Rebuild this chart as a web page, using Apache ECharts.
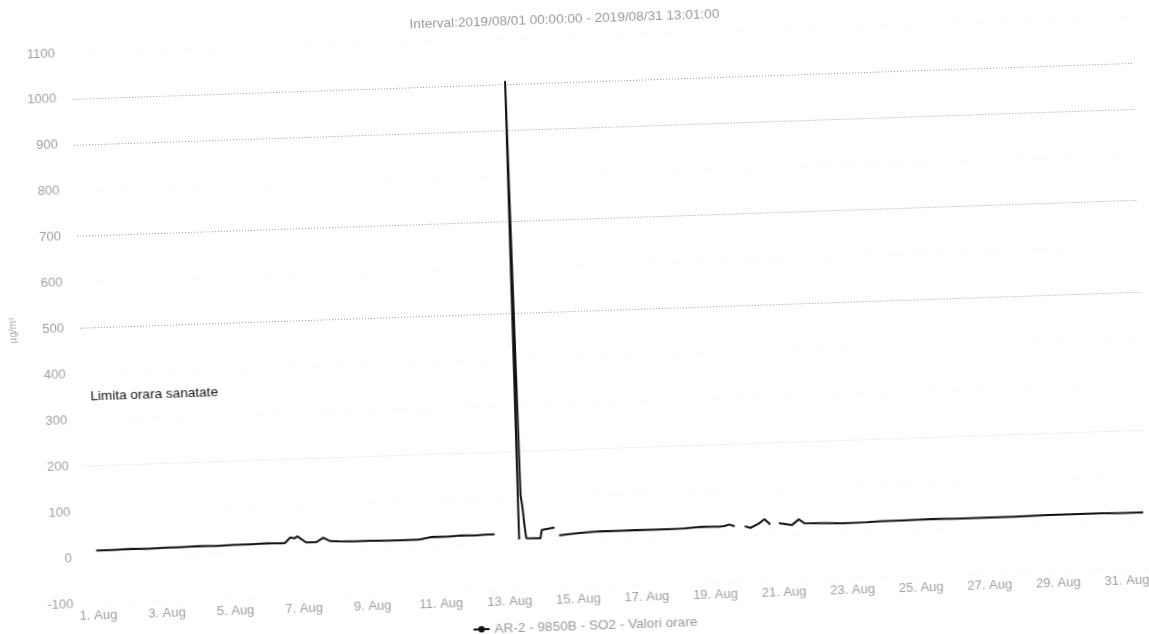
<!DOCTYPE html>
<html>
<head>
<meta charset="utf-8">
<script src="https://cdn.jsdelivr.net/npm/echarts@6/dist/echarts.min.js"></script>
<style>
html,body{margin:0;padding:0;background:#fff;overflow:hidden;}
#chart{width:1149px;height:634px;transform:rotate(-1.94deg);transform-origin:574px 317px;}
</style>
</head>
<body>
<div id="chart"></div>
<script>
// ---- texts ----
const titleText = 'Interval:2019/08/01 00:00:00 - 2019/08/31 13:01:00';
const seriesName = 'AR-2 - 9850B - SO2 - Valori orare';
const yAxisName = 'µg/m³';
const limitLabel = 'Limita orara sanatate';
const limitValue = 350;

// ---- axes ----
const yMin = -100, yMax = 1100, yStep = 100;
const xMinTime = '2019-07-31 18:00';
const xMaxTime = '2019-08-31 17:00';
const xTickDays = [1,3,5,7,9,11,13,15,17,19,21,23,25,27,29,31];
const xTickLabels = ['1. Aug','3. Aug','5. Aug','7. Aug','9. Aug','11. Aug','13. Aug','15. Aug',
  '17. Aug','19. Aug','21. Aug','23. Aug','25. Aug','27. Aug','29. Aug','31. Aug'];

// ---- data (hourly SO2, µg/m³; null = missing) ----
const times = [
 '2019-08-01 00:00','2019-08-01 12:00','2019-08-02 00:00','2019-08-02 12:00','2019-08-03 00:00',
 '2019-08-03 12:00','2019-08-04 00:00','2019-08-04 12:00','2019-08-05 00:00','2019-08-05 12:00',
 '2019-08-06 00:00','2019-08-06 08:00','2019-08-06 12:00','2019-08-06 16:00','2019-08-06 19:00',
 '2019-08-06 21:00','2019-08-07 03:00','2019-08-07 10:00','2019-08-07 15:00','2019-08-07 20:00',
 '2019-08-08 02:00','2019-08-08 12:00','2019-08-09 00:00','2019-08-09 12:00','2019-08-10 00:00',
 '2019-08-10 10:00','2019-08-10 19:00','2019-08-11 06:00','2019-08-11 16:00','2019-08-12 02:00',
 '2019-08-12 08:00','2019-08-12 15:00','2019-08-12 16:00',
 '2019-08-13 08:00','2019-08-13 09:00','2019-08-13 10:00','2019-08-13 11:00','2019-08-13 12:00',
 '2019-08-13 13:00','2019-08-13 14:00','2019-08-13 23:00','2019-08-14 00:00','2019-08-14 09:00',
 '2019-08-14 10:00',
 '2019-08-14 12:00','2019-08-14 20:00','2019-08-15 06:00','2019-08-15 18:00','2019-08-16 06:00',
 '2019-08-16 18:00','2019-08-17 05:00','2019-08-17 17:00','2019-08-18 04:00','2019-08-18 16:00',
 '2019-08-19 04:00','2019-08-19 08:00','2019-08-19 11:00','2019-08-19 15:00','2019-08-19 17:00',
 '2019-08-19 22:00','2019-08-20 02:00','2019-08-20 08:00','2019-08-20 12:00','2019-08-20 16:00',
 '2019-08-20 18:00',
 '2019-08-20 22:00','2019-08-21 07:00','2019-08-21 12:00','2019-08-21 16:00','2019-08-22 06:00',
 '2019-08-22 18:00','2019-08-23 12:00','2019-08-23 22:00','2019-08-24 12:00','2019-08-25 11:00',
 '2019-08-26 00:00','2019-08-26 20:00','2019-08-27 19:00','2019-08-28 18:00','2019-08-29 17:00',
 '2019-08-30 07:00','2019-08-30 20:00','2019-08-31 13:00'
];
const values = [
 15,15,16,15,16,
 16,17,16,17,17,
 18,17,17,29,27,
 31,17,17,26,18,
 17,16,16,15,15,
 15,20,19,21,20,
 21,21,null,
 8,1007,105,80,40,
 10,9,9,27,31,
 null,
 14,16,18,20,19,
 20,19,19,20,22,
 21,22,25,21,null,
 20,16,25,34,22,
 null,
 24,19,31,22,21,
 19,20,21,21,22,
 21,21,21,22,22,
 22,21,21
];

function parseLocal(s) {
  const m = s.match(/(\d+)-(\d+)-(\d+) (\d+):(\d+)/);
  return new Date(+m[1], +m[2] - 1, +m[3], +m[4], +m[5]).getTime();
}

const chart = echarts.init(document.getElementById('chart'), null, {renderer: 'canvas'});
const FONT = "'Liberation Sans', Arial, sans-serif";
const gridColors = [
  '#f4f4f4', // -100
  '#f4f4f4', // 0
  '#f4f4f4', // 100
  '#d6d6d6', // 200
  '#f4f4f4', // 300
  '#f4f4f4', // 400
  '#9a9a9a', // 500
  '#f4f4f4', // 600
  '#9a9a9a', // 700
  '#f4f4f4', // 800
  '#9a9a9a', // 900
  '#9a9a9a', // 1000
  '#f4f4f4'  // 1100
];

const option = {
  animation: false,
  backgroundColor: 'transparent',
  textStyle: {fontFamily: FONT},
  title: {
    text: titleText,
    left: 'center',
    top: 7,
    textStyle: {fontSize: 13.6, fontWeight: 'normal', color: '#999', fontFamily: FONT}
  },
  legend: {
    data: [seriesName],
    left: 'center',
    top: 614,
    itemWidth: 16,
    itemHeight: 8,
    textStyle: {fontSize: 13.6, color: '#999', fontFamily: FONT}
  },
  grid: {left: 76, right: 7, top: 36, bottom: 47, containLabel: false},
  xAxis: {
    type: 'value',
    min: parseLocal(xMinTime),
    max: parseLocal(xMaxTime),
    axisLine: {show: false},
    axisTick: {show: false},
    splitLine: {show: false},
    axisLabel: {
      customValues: xTickDays.map(d => new Date(2019, 7, d).getTime()),
      formatter: function (val) {
        const d = new Date(val).getDate();
        const i = xTickDays.indexOf(d);
        return i >= 0 ? xTickLabels[i] : '';
      },
      fontSize: 13,
      color: '#a0a0a0',
      margin: 6,
      fontFamily: FONT,
      hideOverlap: false
    }
  },
  yAxis: {
    type: 'value',
    min: yMin,
    max: yMax,
    interval: yStep,
    name: yAxisName,
    nameLocation: 'middle',
    nameGap: 62,
    nameTextStyle: {fontSize: 10, color: '#aaa', fontFamily: FONT},
    axisLine: {show: false},
    axisTick: {show: false},
    axisLabel: {
      fontSize: 13, color: '#a0a0a0', margin: 16, fontFamily: FONT,
      formatter: function (v) { return String(v); }
    },
    splitLine: {
      show: true,
      showMinLine: true,
      showMaxLine: true,
      lineStyle: {color: gridColors, type: [1, 2], width: 1}
    }
  },
  series: [{
    name: seriesName,
    type: 'line',
    data: times.map((t, i) => [parseLocal(t), values[i]]),
    showSymbol: false,
    symbol: 'circle',
    symbolSize: 6,
    connectNulls: false,
    lineStyle: {color: '#111', width: 2},
    itemStyle: {color: '#111'},
    markLine: {
      silent: true,
      symbol: 'none',
      lineStyle: {color: 'rgba(0,0,0,0)', width: 1, type: 'solid'},
      label: {
        show: true,
        position: 'insideStart',
        distance: 8,
        formatter: limitLabel,
        color: '#111',
        fontSize: 13.6,
        fontFamily: FONT
      },
      emphasis: {disabled: true},
      data: [{yAxis: limitValue}]
    }
  }]
};
chart.setOption(option);
</script>
</body>
</html>
